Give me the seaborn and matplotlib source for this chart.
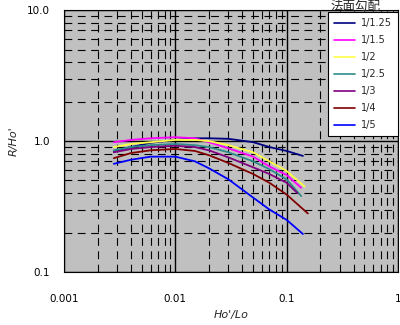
import numpy as np
import pandas as pd
import matplotlib
matplotlib.use("Agg")
import matplotlib.pyplot as plt
import seaborn as sns
from matplotlib.ticker import FixedLocator, FixedFormatter, LogLocator, NullFormatter

# ---- data ----
x_vals = [0.0028, 0.004, 0.006, 0.01, 0.015, 0.02, 0.03, 0.05, 0.07, 0.1, 0.14]
slopes = ["1/1.25", "1/1.5", "1/2", "1/2.5", "1/3", "1/4", "1/5"]
x_last = {"1/1.25": 0.14, "1/1.5": 0.135, "1/2": 0.145, "1/2.5": 0.135,
          "1/3": 0.125, "1/4": 0.155, "1/5": 0.14}
r_125 = [0.84, 0.90, 0.97, 1.02, 1.05, 1.05, 1.04, 0.98, 0.90, 0.84, 0.77]
r_15 = [0.98, 1.02, 1.05, 1.07, 1.05, 0.98, 0.88, 0.76, 0.64, 0.55, 0.44]
r_2 = [0.90, 0.95, 0.98, 1.02, 1.02, 1.00, 0.93, 0.82, 0.70, 0.59, 0.45]
r_25 = [0.85, 0.90, 0.93, 0.95, 0.93, 0.90, 0.82, 0.70, 0.61, 0.51, 0.38]
r_3 = [0.82, 0.87, 0.90, 0.92, 0.90, 0.85, 0.75, 0.63, 0.56, 0.48, 0.40]
r_4 = [0.74, 0.81, 0.85, 0.87, 0.84, 0.78, 0.68, 0.56, 0.48, 0.39, 0.28]
r_5 = [0.67, 0.72, 0.76, 0.76, 0.70, 0.62, 0.51, 0.37, 0.30, 0.25, 0.195]
series = [r_125, r_15, r_2, r_25, r_3, r_4, r_5]
colors = ["#000080", "#FF00FF", "#FFFF44", "#2E8B8B", "#800080", "#800000", "#0000FF"]

x_ticks = [0.001, 0.01, 0.1, 1]
x_ticklabels = ["0.001", "0.01", "0.1", "1"]
y_ticks = [0.1, 1.0, 10.0]
y_ticklabels = ["0.1", "1.0", "10.0"]

rows = []
for name, vals in zip(slopes, series):
    xs = list(x_vals[:-1]) + [x_last[name]]
    for xv, yv in zip(xs, vals):
        rows.append({"x": xv, "R": yv, "slope": name})
df = pd.DataFrame(rows)

sns.set_theme(style="white")
plt.rcParams["font.family"] = ["DejaVu Sans"]

fig = plt.figure(figsize=(4.0, 3.25), dpi=100)
ax = fig.add_axes([0.16, 0.163, 0.835, 0.806])
ax.set_facecolor("#C0C0C0")

sns.lineplot(data=df, x="x", y="R", hue="slope", hue_order=slopes,
             palette=colors, ax=ax, legend=False, linewidth=1.3, sort=True)

ax.set_xscale("log")
ax.set_yscale("log")
ax.set_xlim(0.001, 1)
ax.set_ylim(0.1, 10)

ax.xaxis.set_major_locator(FixedLocator(x_ticks))
ax.xaxis.set_major_formatter(FixedFormatter(x_ticklabels))
ax.yaxis.set_major_locator(FixedLocator(y_ticks))
ax.yaxis.set_major_formatter(FixedFormatter(y_ticklabels))
ax.xaxis.set_minor_locator(LogLocator(base=10, subs=np.arange(2, 10)))
ax.yaxis.set_minor_locator(LogLocator(base=10, subs=np.arange(2, 10)))
ax.xaxis.set_minor_formatter(NullFormatter())
ax.yaxis.set_minor_formatter(NullFormatter())
ax.tick_params(which="both", length=0)
ax.tick_params(axis="x", labelsize=7.5, pad=16, colors="black")
ax.tick_params(axis="y", labelsize=7.5, pad=10, colors="black")

ax.grid(which="major", color="black", linewidth=1.0, linestyle="-")
ax.grid(which="minor", color="black", linewidth=0.8, linestyle=(0, (7, 5)))
ax.set_axisbelow(True)
for s in ax.spines.values():
    s.set_visible(True)
    s.set_color("black")
    s.set_linewidth(0.8)

ax.set_xlabel("Ho'/Lo", fontsize=8, style="italic", labelpad=4)
ax.set_ylabel("R/Ho'", fontsize=8, style="italic", labelpad=6)

handles = [plt.Line2D([], [], color=c, lw=1.2) for c in colors]
leg = ax.legend(handles, slopes, loc="upper right", bbox_to_anchor=(1.0, 0.992),
                fontsize=7, frameon=True, fancybox=False, framealpha=1,
                edgecolor="black", facecolor="white", handlelength=2.2,
                handletextpad=0.6, labelspacing=0.72, borderpad=0.6,
                borderaxespad=0.0)
leg.get_frame().set_linewidth(0.8)

fig.text(0.89, 0.981, "法面勾配", ha="center", va="center", fontsize=9,
         family=["Noto Sans CJK JP", "DejaVu Sans"])

fig.savefig("out.png", dpi=100)
